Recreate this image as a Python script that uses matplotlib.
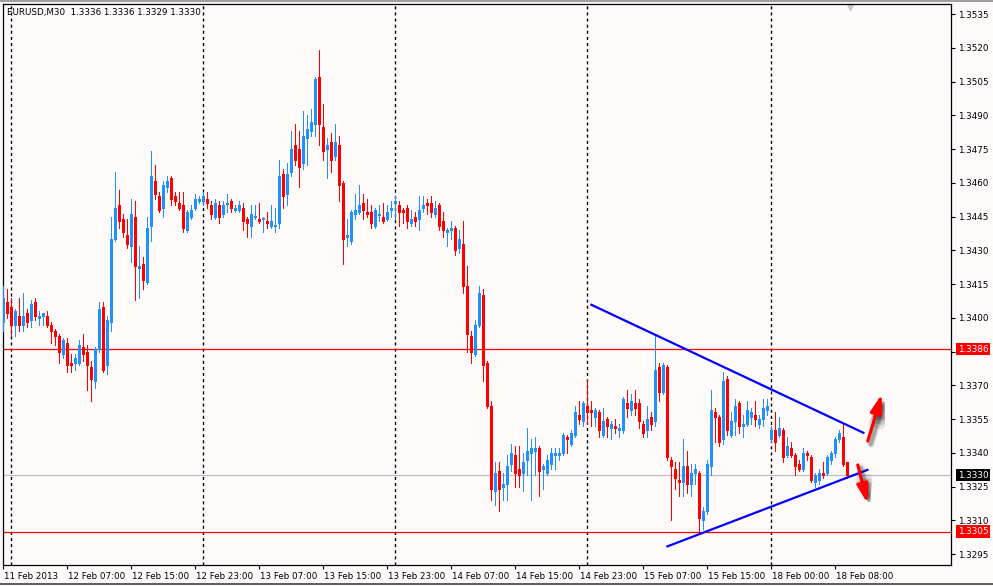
import matplotlib
matplotlib.use("Agg")
import matplotlib.pyplot as plt
from matplotlib.transforms import ScaledTranslation, blended_transform_factory
import numpy as np

# EURUSD M30 bars, prices in points (x 1e-4); bar 0 = 11 Feb 23:00
OPEN = [13398, 13407, 13405, 13397, 13401, 13397, 13402, 13399, 13407, 13400,
        13401, 13401, 13397, 13394, 13392, 13384, 13389, 13380, 13380, 13380,
        13387, 13385, 13378, 13372, 13386, 13405, 13379, 13398, 13435, 13450,
        13444, 13437, 13432, 13445, 13422, 13424, 13416, 13441, 13461, 13454,
        13449, 13458, 13462, 13454, 13451, 13450, 13439, 13445, 13449, 13452,
        13452, 13453, 13450, 13445, 13450, 13446, 13451, 13452, 13448, 13448,
        13449, 13444, 13441, 13445, 13444, 13444, 13443, 13441, 13441, 13442,
        13464, 13455, 13465, 13477, 13475, 13469, 13480, 13483, 13486, 13507,
        13485, 13475, 13478, 13472, 13477, 13460, 13436, 13434, 13446, 13447,
        13451, 13447, 13447, 13441, 13446, 13445, 13444, 13448, 13451, 13450,
        13448, 13449, 13442, 13445, 13444, 13449, 13451, 13451, 13446, 13450,
        13443, 13438, 13439, 13440, 13431, 13433, 13414, 13392, 13384, 13397,
        13410, 13380, 13361, 13323, 13332, 13325, 13326, 13335, 13339, 13333,
        13331, 13337, 13340, 13341, 13342, 13333, 13331, 13335, 13339, 13339,
        13340, 13347, 13344, 13348, 13357, 13354, 13361, 13359, 13356, 13358,
        13348, 13355, 13351, 13352, 13350, 13350, 13362, 13359, 13362, 13362,
        13353, 13350, 13356, 13354, 13378, 13367, 13378, 13337, 13333, 13328,
        13327, 13334, 13326, 13331, 13331, 13310, 13314, 13334, 13358, 13356,
        13346, 13373, 13348, 13354, 13362, 13352, 13353, 13356, 13357, 13353,
        13355, 13359, 13346, 13350, 13348, 13350, 13339, 13342, 13339, 13335,
        13333, 13340, 13338, 13327, 13328, 13331, 13331, 13337, 13340, 13346,
        13347, 13336]
HIGH = [13414, 13413, 13409, 13404, 13409, 13411, 13404, 13408, 13409, 13403,
        13402, 13403, 13398, 13395, 13393, 13391, 13391, 13384, 13384, 13390,
        13393, 13388, 13381, 13387, 13407, 13407, 13401, 13445, 13465, 13457,
        13446, 13444, 13453, 13452, 13432, 13427, 13445, 13474, 13468, 13456,
        13461, 13463, 13463, 13456, 13456, 13456, 13448, 13450, 13455, 13454,
        13456, 13456, 13452, 13453, 13452, 13452, 13455, 13453, 13450, 13452,
        13451, 13445, 13450, 13450, 13451, 13445, 13447, 13450, 13449, 13470,
        13466, 13469, 13483, 13486, 13483, 13492, 13490, 13493, 13507, 13519,
        13495, 13480, 13482, 13486, 13481, 13461, 13444, 13448, 13455, 13459,
        13455, 13453, 13450, 13449, 13450, 13451, 13450, 13452, 13454, 13452,
        13449, 13450, 13448, 13447, 13454, 13454, 13453, 13454, 13452, 13451,
        13447, 13440, 13443, 13441, 13439, 13443, 13423, 13394, 13399, 13414,
        13413, 13381, 13363, 13336, 13336, 13331, 13339, 13344, 13343, 13343,
        13340, 13351, 13346, 13347, 13343, 13335, 13339, 13342, 13342, 13342,
        13349, 13348, 13350, 13361, 13363, 13363, 13373, 13363, 13360, 13359,
        13360, 13356, 13354, 13355, 13353, 13365, 13368, 13366, 13368, 13364,
        13354, 13361, 13358, 13392, 13380, 13380, 13379, 13338, 13336, 13336,
        13346, 13341, 13335, 13335, 13332, 13316, 13337, 13368, 13360, 13357,
        13376, 13374, 13358, 13364, 13363, 13357, 13363, 13360, 13363, 13357,
        13364, 13364, 13352, 13358, 13356, 13351, 13347, 13345, 13340, 13337,
        13342, 13341, 13339, 13331, 13333, 13336, 13339, 13341, 13347, 13350,
        13353, 13336]
LOW = [13394, 13400, 13392, 13392, 13394, 13394, 13396, 13396, 13399, 13397,
       13397, 13396, 13389, 13388, 13380, 13382, 13376, 13376, 13377, 13379,
       13381, 13368, 13363, 13369, 13385, 13376, 13375, 13394, 13434, 13440,
       13436, 13431, 13425, 13408, 13409, 13413, 13415, 13434, 13453, 13447,
       13445, 13456, 13450, 13450, 13448, 13438, 13438, 13444, 13448, 13451,
       13450, 13449, 13444, 13444, 13442, 13445, 13447, 13447, 13447, 13447,
       13439, 13436, 13436, 13444, 13442, 13438, 13440, 13440, 13438, 13440,
       13449, 13450, 13463, 13468, 13458, 13466, 13468, 13481, 13481, 13477,
       13470, 13462, 13465, 13470, 13452, 13424, 13432, 13433, 13444, 13446,
       13444, 13445, 13440, 13440, 13443, 13442, 13443, 13445, 13444, 13441,
       13442, 13440, 13441, 13441, 13439, 13447, 13446, 13445, 13445, 13439,
       13436, 13432, 13435, 13428, 13429, 13411, 13385, 13380, 13383, 13396,
       13372, 13360, 13319, 13317, 13314, 13319, 13319, 13332, 13325, 13325,
       13323, 13330, 13319, 13330, 13321, 13324, 13330, 13333, 13333, 13337,
       13339, 13340, 13343, 13347, 13353, 13352, 13353, 13352, 13352, 13347,
       13347, 13347, 13346, 13349, 13347, 13349, 13356, 13357, 13357, 13351,
       13347, 13347, 13350, 13352, 13363, 13366, 13337, 13310, 13324, 13321,
       13321, 13322, 13321, 13326, 13305, 13306, 13313, 13330, 13345, 13343,
       13344, 13348, 13347, 13348, 13349, 13347, 13352, 13353, 13352, 13351,
       13352, 13357, 13345, 13341, 13347, 13336, 13338, 13338, 13330, 13332,
       13332, 13337, 13327, 13325, 13326, 13329, 13330, 13335, 13338, 13345,
       13334, 13329]
CLOSE = [13409, 13402, 13397, 13403, 13397, 13401, 13398, 13406, 13401, 13401,
         13402, 13397, 13394, 13392, 13385, 13390, 13379, 13379, 13382, 13388,
         13384, 13379, 13373, 13386, 13404, 13377, 13399, 13435, 13449, 13443,
         13438, 13433, 13446, 13423, 13423, 13417, 13440, 13463, 13455, 13448,
         13459, 13461, 13453, 13452, 13449, 13440, 13447, 13448, 13453, 13453,
         13454, 13451, 13446, 13451, 13445, 13450, 13451, 13449, 13449, 13450,
         13443, 13442, 13446, 13445, 13443, 13444, 13442, 13443, 13441, 13463,
         13454, 13464, 13475, 13470, 13467, 13481, 13484, 13487, 13506, 13486,
         13474, 13477, 13470, 13478, 13459, 13435, 13437, 13447, 13448, 13450,
         13448, 13446, 13442, 13448, 13446, 13443, 13447, 13449, 13452, 13447,
         13447, 13443, 13444, 13443, 13448, 13450, 13450, 13447, 13449, 13441,
         13439, 13439, 13440, 13430, 13435, 13414, 13393, 13385, 13397, 13411,
         13379, 13361, 13324, 13331, 13324, 13326, 13334, 13340, 13331, 13330,
         13336, 13341, 13342, 13342, 13332, 13334, 13337, 13340, 13340, 13340,
         13348, 13346, 13349, 13358, 13355, 13362, 13358, 13358, 13359, 13350,
         13354, 13352, 13353, 13351, 13351, 13364, 13360, 13363, 13360, 13354,
         13349, 13355, 13353, 13377, 13367, 13379, 13338, 13334, 13329, 13327,
         13334, 13326, 13331, 13333, 13311, 13314, 13335, 13359, 13356, 13345,
         13372, 13350, 13354, 13361, 13352, 13353, 13359, 13358, 13355, 13355,
         13360, 13361, 13350, 13345, 13351, 13338, 13343, 13339, 13334, 13333,
         13340, 13339, 13328, 13330, 13331, 13330, 13338, 13340, 13346, 13349,
         13335, 13330]

TICK_BARS = [0, 16, 32, 48, 64, 80, 96, 112, 128, 144, 160, 176, 192, 208]
TICK_LABELS = ["11 Feb 2013", "12 Feb 07:00", "12 Feb 15:00", "12 Feb 23:00",
               "13 Feb 07:00", "13 Feb 15:00", "13 Feb 23:00", "14 Feb 07:00",
               "14 Feb 15:00", "14 Feb 23:00", "15 Feb 07:00", "15 Feb 15:00",
               "18 Feb 00:00", "18 Feb 08:00"]
DAY_BARS = [2, 50, 98, 146, 192]
Y_TICKS = [1.3295, 1.3310, 1.3325, 1.3340, 1.3355, 1.3370, 1.3385, 1.3400, 1.3415,
           1.3430, 1.3445, 1.3460, 1.3475, 1.3490, 1.3505, 1.3520, 1.3535]
HIDDEN_TICK = 1.3385  # covered by the 1.3386 price box
RESIST = 1.3386
SUPPORT = 1.3305
LAST = 1.3330
UPPER_TL = ([147, 215], [1.34058, 1.33489])
LOWER_TL = ([166, 216], [1.32984, 1.33324])
ARROW_UP = ((216.1, 1.33452), (219.6, 1.33661))
ARROW_DN = ((213.6, 1.33346), (216.0, 1.33176))

BLUE = "#1e90ff"
RED = "#ff0000"
BG = "#fffafa"
FONT = dict(family="DejaVu Sans", size=6.3)
PX = 72 / 100  # one pixel in points


def main():
    o, h, l, c = [np.array(a) / 1e4 for a in (OPEN, HIGH, LOW, CLOSE)]
    x = np.arange(len(o))
    cols = np.where(c >= o, BLUE, RED)

    fig = plt.figure(figsize=(9.93, 5.86), dpi=100, facecolor=BG)
    ax = fig.add_axes([2.7 / 993, 21 / 586, 948.3 / 993, 561 / 586], facecolor=BG)

    # wicks 1 px, bodies 3 px
    ax.vlines(x, l, h, colors=cols, lw=PX, antialiased=False, zorder=3)
    lo = np.minimum(o, c)
    hi = np.maximum(o, c)
    doji = (hi - lo) < 1e-6
    lo = np.where(doji, lo - 0.00002, lo)
    hi = np.where(doji, hi + 0.00002, hi)
    ax.vlines(x, lo, hi, colors=cols, lw=3 * PX, antialiased=False, zorder=3,
              capstyle="butt")

    for b in DAY_BARS:
        ax.axvline(b, color="black", lw=1.0, ls=(0, (2.2, 2.2)), zorder=1)
    ax.axhline(RESIST, color=RED, lw=0.9, zorder=2)
    ax.axhline(SUPPORT, color=RED, lw=0.9, zorder=2)
    ax.axhline(LAST, color="#c0c0c0", lw=0.9, zorder=2)

    ax.plot(*UPPER_TL, color="#0000ff", lw=1.6, zorder=4)
    ax.plot(*LOWER_TL, color="#0000ff", lw=1.6, zorder=4)

    # hand-drawn red arrows with a soft dark shadow
    style = "-|>,head_length=1.1,head_width=0.34"
    sh = ax.transData + ScaledTranslation(3 / 100, -3 / 100, fig.dpi_scale_trans)
    for start, end in (ARROW_UP, ARROW_DN):
        for lw, a in ((5.5, 0.10), (4.0, 0.14), (2.6, 0.22)):
            ax.annotate("", xy=end, xytext=start, xycoords=sh, textcoords=sh,
                        arrowprops=dict(arrowstyle=style, color="#222222", alpha=a,
                                        lw=lw, shrinkA=0, shrinkB=0), zorder=4)
        ax.annotate("", xy=end, xytext=start,
                    arrowprops=dict(arrowstyle=style, color=RED, lw=2.3,
                                    shrinkA=0, shrinkB=0), zorder=5)

    ax.set_xlim(-0.15, 236.9)
    ax.set_ylim(1.329013, 1.353947)
    for s in ax.spines.values():
        s.set_color("black")
        s.set_linewidth(0.9)

    ax.yaxis.tick_right()
    ax.set_yticks(Y_TICKS)
    ax.set_yticklabels(["" if abs(v - HIDDEN_TICK) < 1e-6 else f"{v:.4f}" for v in Y_TICKS],
                       **FONT)
    ax.tick_params(axis="y", length=3, width=0.8, pad=2, colors="black")

    ax.set_xticks(TICK_BARS)
    ax.set_xticklabels(TICK_LABELS, ha="left", **FONT)
    ax.tick_params(axis="x", length=3, width=0.8, pad=2, colors="black")
    shift = ScaledTranslation(1 / 100, 0, fig.dpi_scale_trans)
    for lab in ax.get_xticklabels():
        lab.set_transform(lab.get_transform() + shift)

    trans = blended_transform_factory(ax.transAxes, ax.transData)
    for val, face in ((RESIST, RED), (LAST, "black"), (SUPPORT, RED)):
        ax.text(1.0 + 7 / 948, val, f"{val:.4f}", transform=trans, color="white",
                va="center", ha="left", clip_on=False, zorder=6,
                bbox=dict(facecolor=face, edgecolor="none", pad=1.2), **FONT)

    fig.text(7 / 993, 1 - 13 / 586, "EURUSD,M30  1.3336 1.3336 1.3329 1.3330",
             va="center", ha="left", color="black", **FONT)
    # window frame bits
    fig.add_artist(plt.Line2D([0, 1], [0.999, 0.999], color="#a0a0a0", lw=1.5))
    fig.add_artist(plt.Line2D([0, 1], [2.5 / 586, 2.5 / 586], color="#404040", lw=1.2))
    ax.plot([0.8936], [0.995], marker="v", ms=5, color="#c8c8c8",
            transform=ax.transAxes, clip_on=False)

    fig.savefig("out.png", dpi=100, facecolor=BG)
    plt.close(fig)


if __name__ == "__main__":
    main()
